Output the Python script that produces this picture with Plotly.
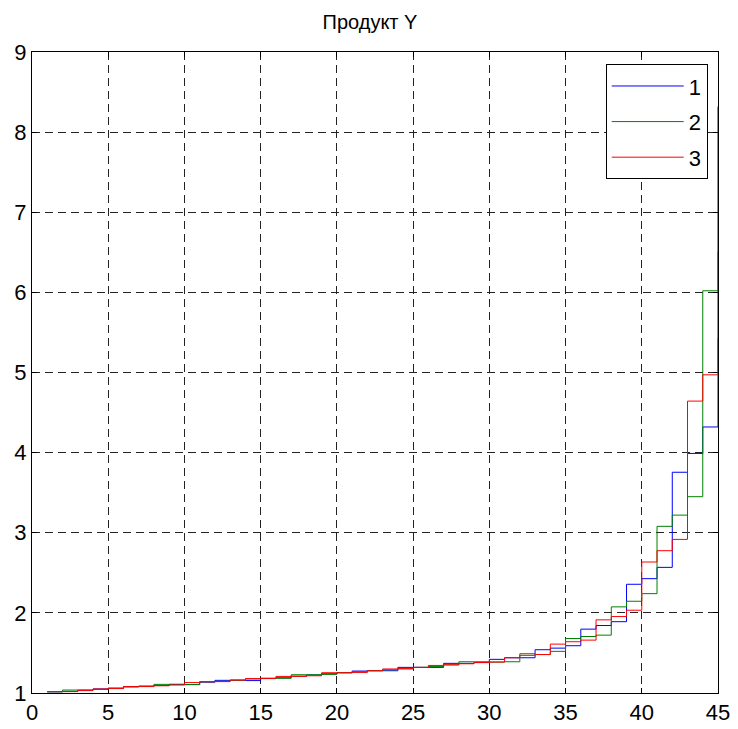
import plotly.graph_objects as go

x = list(range(1, 46))

series_1 = [1.015, 1.02, 1.035, 1.05, 1.06, 1.08, 1.085, 1.095, 1.105, 1.105,
            1.135, 1.158, 1.16, 1.155, 1.183, 1.19, 1.21, 1.225, 1.24, 1.253,
            1.274, 1.278, 1.278, 1.32, 1.32, 1.32, 1.37, 1.37, 1.38, 1.42,
            1.44, 1.44, 1.54, 1.56, 1.59, 1.797, 1.842, 1.89, 2.357, 2.427,
            2.568, 3.755, 3.99, 4.32, 8.32]
series_2 = [1.015, 1.037, 1.037, 1.045, 1.06, 1.075, 1.085, 1.108, 1.11, 1.105,
            1.14, 1.145, 1.16, 1.175, 1.183, 1.183, 1.228, 1.228, 1.232, 1.253,
            1.265, 1.278, 1.29, 1.30, 1.32, 1.33, 1.35, 1.39, 1.39, 1.386,
            1.39, 1.49, 1.48, 1.52, 1.68, 1.705, 1.722, 2.075, 2.145, 2.24,
            3.08, 3.22, 3.45, 6.02, 6.51]
series_3 = [1.017, 1.017, 1.03, 1.05, 1.055, 1.08, 1.08, 1.09, 1.10, 1.13,
            1.14, 1.142, 1.16, 1.18, 1.18, 1.207, 1.207, 1.215, 1.253, 1.253,
            1.257, 1.278, 1.30, 1.307, 1.32, 1.344, 1.353, 1.365, 1.38, 1.386,
            1.44, 1.47, 1.48, 1.61, 1.64, 1.66, 1.913, 1.954, 2.033, 2.635,
            2.776, 2.917, 4.643, 4.971, 5.43]

names = ["1", "2", "3"]
colors = ["#0000ff", "#008000", "#ff0000"]
x_ticks = list(range(0, 46, 5))
y_ticks = list(range(1, 10))

fig = go.Figure()
for name, ys, c in zip(names, [series_1, series_2, series_3], colors):
    fig.add_trace(go.Scatter(x=x, y=ys, mode="lines", name=name,
                             legendgroup=name, cliponaxis=False,
                             line=dict(color=c, width=1, shape="hv")))

axis_common = dict(
    showline=True, linecolor="black", linewidth=1, mirror="ticks",
    ticks="inside", ticklen=5, tickcolor="black",
    showgrid=True, gridcolor="#222222", gridwidth=1, griddash="8px,5px",
    zeroline=False, automargin=False, layer="below traces",
    tickfont=dict(family="Liberation Sans, Arial, sans-serif", size=22, color="black"),
)

fig.update_xaxes(range=[0, 45], tickvals=x_ticks, **axis_common)
fig.update_yaxes(range=[1, 9], tickvals=y_ticks, **axis_common)

W, H = 738, 729
fig.update_layout(
    width=W, height=H,
    margin=dict(l=32, r=20, t=52, b=36),
    paper_bgcolor="white", plot_bgcolor="white",
    title=dict(text="Продукт Y", x=370 / W, xref="container", xanchor="center",
               y=1 - 22 / H, yref="container", yanchor="middle",
               font=dict(family="Liberation Sans, Arial, sans-serif", size=20, color="black")),
    legend=dict(x=0.985, y=0.981, xanchor="right", yanchor="top",
                bordercolor="black", borderwidth=1, bgcolor="white",
                font=dict(family="Liberation Sans, Arial, sans-serif", size=22, color="black"),
                tracegroupgap=4, itemwidth=72),
    showlegend=True,
)

fig.write_html(
    "out.html",
    config={"displayModeBar": False},
    post_script="document.body.style.margin='0';document.body.style.overflow='hidden';",
)
